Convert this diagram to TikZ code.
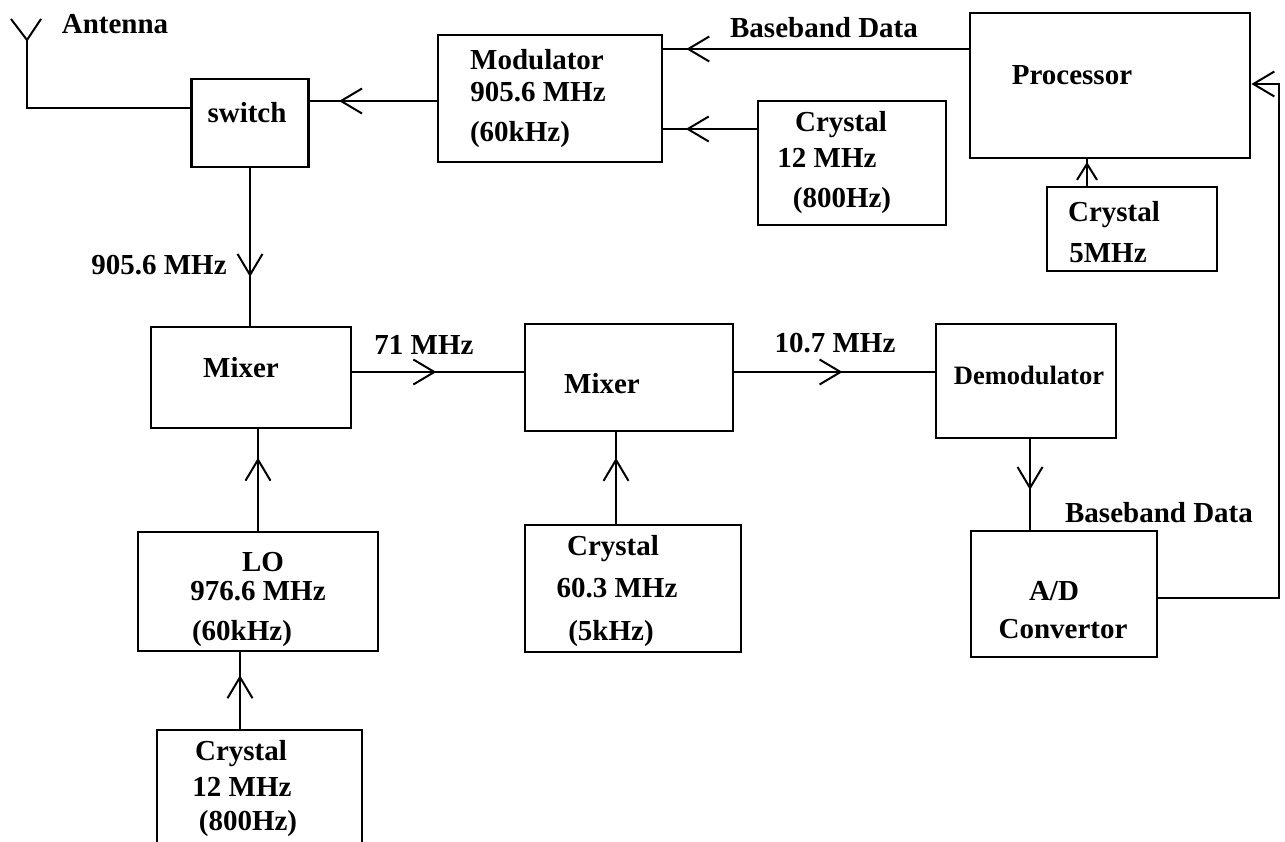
\documentclass[tikz,border=0pt]{standalone}
\usepackage{fontspec}
\setmainfont{Liberation Serif}
\usetikzlibrary{arrows.meta,decorations.markings}
\tikzset{
  blockbox/.style={draw,line width=2.8pt,inner sep=0pt},
  lbl/.style={font=\bfseries\fontsize{29}{35}\selectfont,inner sep=0pt},
  wire/.style={line width=2.8pt},
  barb/.tip={Straight Barb[length=21pt,width=25pt,line width=2pt]},
  smallbarb/.tip={Straight Barb[length=16pt,width=20pt,line width=2pt]},
  tipat/.style={postaction={decorate},decoration={markings,mark=at position #1 with {\arrow{barb}}}},
  smalltipat/.style={postaction={decorate},decoration={markings,mark=at position #1 with {\arrow{smallbarb}}}}
}
\begin{document}
\begin{tikzpicture}[x=1pt,y=-1pt]
    \useasboundingbox (0,0) rectangle (1285,842);
    \clip (0,0) rectangle (1285,842);
    % Blocks
    \node[blockbox,minimum width=117pt,minimum height=88pt] (swt) at (250,123) {};
    \node[blockbox,minimum width=224pt,minimum height=127pt] (mod) at (550,98.5) {};
    \node[blockbox,minimum width=188pt,minimum height=124pt] (xtala) at (852,163) {};
    \node[blockbox,minimum width=280pt,minimum height=145pt] (proc) at (1110,85.5) {};
    \node[blockbox,minimum width=170pt,minimum height=84pt] (xtalp) at (1132,229) {};
    \node[blockbox,minimum width=200pt,minimum height=101pt] (mixa) at (251,377.5) {};
    \node[blockbox,minimum width=208pt,minimum height=107pt] (mixb) at (629,377.5) {};
    \node[blockbox,minimum width=180pt,minimum height=114pt] (dem) at (1026,381) {};
    \node[blockbox,minimum width=186pt,minimum height=126pt] (adc) at (1064,594) {};
    \node[blockbox,minimum width=240pt,minimum height=119pt] (lo) at (258,591.5) {};
    \node[blockbox,minimum width=216pt,minimum height=127pt] (xtalb) at (633,588.5) {};
    \node[blockbox,minimum width=205pt,minimum height=130pt] (xtalc) at (259.5,795) {};
    % Block texts
    \node[lbl] (swttxt) at (247,113) {switch};
    \node[lbl] (modtxta) at (537,60) {Modulator};
    \node[lbl] (modtxtb) at (538,92) {905.6 MHz};
    \node[lbl] (modtxtc) at (520,135) {(60kHz)};
    \node[lbl] (xtalatxta) at (841,125) {Crystal};
    \node[lbl] (xtalatxtb) at (827,158) {12 MHz};
    \node[lbl] (xtalatxtc) at (842,201) {(800Hz)};
    \node[lbl] (proctxt) at (1072,75) {Processor};
    \node[lbl] (xtalptxta) at (1114,215) {Crystal};
    \node[lbl] (xtalptxtb) at (1108,253) {5MHz};
    \node[lbl] (mixatxt) at (241,368) {Mixer};
    \node[lbl] (mixbtxt) at (602,384) {Mixer};
    \node[lbl,font=\bfseries\fontsize{26.5}{32}\selectfont] (demtxt) at (1029,375) {Demodulator};
    \node[lbl] (adctxta) at (1054,591) {A/D};
    \node[lbl] (adctxtb) at (1063,629) {Convertor};
    \node[lbl] (lotxta) at (263,562) {LO};
    \node[lbl] (lotxtb) at (258,591) {976.6 MHz};
    \node[lbl] (lotxtc) at (242,634) {(60kHz)};
    \node[lbl] (xtalbtxta) at (613,549) {Crystal};
    \node[lbl] (xtalbtxtb) at (617,588) {60.3 MHz};
    \node[lbl] (xtalbtxtc) at (611,634) {(5kHz)};
    \node[lbl] (xtalctxta) at (241,754) {Crystal};
    \node[lbl] (xtalctxtb) at (242,787) {12 MHz};
    \node[lbl] (xtalctxtc) at (248,824) {(800Hz)};
    % Signal labels
    \node[lbl] (anttxt) at (115,24) {Antenna};
    \node[lbl] (rftxt) at (159,265) {905.6 MHz};
    \node[lbl] (bbtxta) at (824,28) {Baseband Data};
    \node[lbl] (iftxta) at (424,345) {71 MHz};
    \node[lbl] (iftxtb) at (835,343) {10.7 MHz};
    \node[lbl] (bbtxtb) at (1159,513) {Baseband Data};
    % Antenna
    \coordinate (ant) at (27,40);
    \draw[wire,line width=2pt] (11,19) -- (ant) -- (41,19);
    \draw[wire] (ant) |- ([yshift=15pt]swt.west);
    % Transmit side
    \draw[wire,tipat=0.77] ([yshift=-2.5pt]mod.west) -- ([yshift=-2.5pt]mod.west -| swt.east);
    \draw[wire,tipat=0.925] ([yshift=36.5pt]proc.west) -- ([yshift=36.5pt]proc.west -| mod.east);
    \draw[wire,tipat=0.76] ([yshift=34pt]xtala.west) -- ([yshift=34pt]xtala.west -| mod.east);
    \draw[wire,smalltipat=0.9] ([xshift=-45pt]xtalp.north) -- ([xshift=-45pt]xtalp.north |- proc.south);
    % Receive side
    \draw[wire,tipat=0.69] (swt.south) -- (swt.south |- mixa.north);
    \draw[wire,tipat=0.49] ([yshift=5.5pt]mixa.east) -- ([yshift=5.5pt]mixa.east -| mixb.west);
    \draw[wire,tipat=0.54] ([yshift=5.5pt]mixb.east) -- ([yshift=5.5pt]mixb.east -| dem.west);
    \draw[wire,tipat=0.56] ([xshift=4pt]dem.south) -- ([xshift=4pt]dem.south |- adc.north);
    \draw[wire,tipat=0.72] (lo.north) -- (lo.north |- mixa.south);
    \draw[wire,tipat=0.72] ([xshift=-17pt]xtalb.north) -- ([xshift=-17pt]xtalb.north |- mixb.south);
    \draw[wire,tipat=0.70] ([xshift=-19.5pt]xtalc.north) -- ([xshift=-19.5pt]xtalc.north |- lo.south);
    \draw[wire,-{barb}] ([yshift=-4pt]adc.east) -| (1279,84) -- ([yshift=1.5pt]proc.east);
\end{tikzpicture}
\end{document}
